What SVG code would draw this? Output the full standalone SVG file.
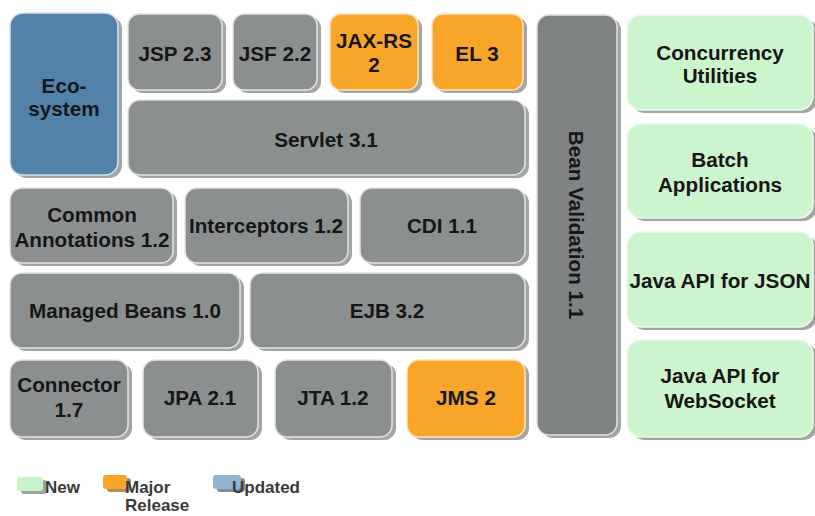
<svg xmlns="http://www.w3.org/2000/svg" width="815" height="516" viewBox="0 0 815 516">
<style>
.sh{fill:#a3a5a5}
.g{fill:#8c8f8f;stroke:#e4e4e4;stroke-width:1.5}
.o{fill:#f8a629;stroke:#fbe2b8;stroke-width:1.5}
.b{fill:#5282a9;stroke:#d8e2ea;stroke-width:1.5}
.n{fill:#cdf5cd;stroke:#eefaee;stroke-width:1.5}
.bv{fill:#7f8383;stroke:#e0e0e0;stroke-width:1.5}
text{font-family:"Liberation Sans",Arial,sans-serif;font-weight:bold;font-size:20.7px;fill:#161616;text-anchor:middle}
.lg{font-size:17px;fill:#3a3a3a;text-anchor:start}
</style>
<rect width="815" height="516" fill="#ffffff"/>
<g id="eco"><rect class="sh" x="14" y="16" width="108" height="162" rx="13"/><rect class="b" x="10" y="13" width="108" height="162" rx="13"/><text x="64" y="93">Eco-</text><text x="64" y="116">system</text></g>
<g id="jsp"><rect class="sh" x="132" y="17" width="94" height="76" rx="11"/><rect class="g" x="128" y="14" width="94" height="76" rx="11"/><text x="175" y="61">JSP 2.3</text></g>
<g id="jsf"><rect class="sh" x="237" y="17" width="84" height="76" rx="11"/><rect class="g" x="233" y="14" width="84" height="76" rx="11"/><text x="275" y="61">JSF 2.2</text></g>
<g id="jaxrs"><rect class="sh" x="334" y="17" width="88" height="76" rx="11"/><rect class="o" x="330" y="14" width="88" height="76" rx="11"/><text x="374" y="48">JAX-RS</text><text x="374" y="72">2</text></g>
<g id="el"><rect class="sh" x="436" y="17" width="91" height="76" rx="11"/><rect class="o" x="432" y="14" width="91" height="76" rx="11"/><text x="477" y="61">EL 3</text></g>
<g id="servlet"><rect class="sh" x="132" y="103" width="397" height="75" rx="12"/><rect class="g" x="128" y="100" width="397" height="75" rx="12"/><text x="326" y="147">Servlet 3.1</text></g>
<g id="beanval"><rect class="sh" x="541" y="18" width="80" height="420" rx="12"/><rect class="bv" x="537" y="15" width="80" height="420" rx="12"/><text transform="translate(569,225) rotate(90)">Bean Validation 1.1</text></g>
<g id="concurrency"><rect class="sh" x="631" y="18" width="186" height="95" rx="14"/><rect class="n" x="627" y="15" width="186" height="95" rx="14"/><text x="720" y="60">Concurrency</text><text x="720" y="83">Utilities</text></g>
<g id="batch"><rect class="sh" x="631" y="127" width="186" height="94" rx="14"/><rect class="n" x="627" y="124" width="186" height="94" rx="14"/><text x="720" y="167">Batch</text><text x="720" y="192">Applications</text></g>
<g id="json"><rect class="sh" x="631" y="235" width="186" height="95" rx="14"/><rect class="n" x="627" y="232" width="186" height="95" rx="14"/><text x="720" y="288">Java API for JSON</text></g>
<g id="websocket"><rect class="sh" x="631" y="343" width="186" height="97" rx="14"/><rect class="n" x="627" y="340" width="186" height="97" rx="14"/><text x="720" y="383">Java API for</text><text x="720" y="408">WebSocket</text></g>
<g id="common"><rect class="sh" x="14" y="191" width="163" height="75" rx="12"/><rect class="g" x="10" y="188" width="163" height="75" rx="12"/><text x="92" y="222">Common</text><text x="92" y="247">Annotations 1.2</text></g>
<g id="interceptors"><rect class="sh" x="189" y="191" width="163" height="75" rx="12"/><rect class="g" x="185" y="188" width="163" height="75" rx="12"/><text x="266" y="233">Interceptors 1.2</text></g>
<g id="cdi"><rect class="sh" x="364" y="191" width="165" height="75" rx="12"/><rect class="g" x="360" y="188" width="165" height="75" rx="12"/><text x="442" y="233">CDI 1.1</text></g>
<g id="managed"><rect class="sh" x="14" y="276" width="230" height="75" rx="12"/><rect class="g" x="10" y="273" width="230" height="75" rx="12"/><text x="125" y="318">Managed Beans 1.0</text></g>
<g id="ejb"><rect class="sh" x="254" y="276" width="275" height="75" rx="12"/><rect class="g" x="250" y="273" width="275" height="75" rx="12"/><text x="387" y="318">EJB 3.2</text></g>
<g id="connector"><rect class="sh" x="14" y="363" width="118" height="77" rx="12"/><rect class="g" x="10" y="360" width="118" height="77" rx="12"/><text x="69" y="392">Connector</text><text x="69" y="417">1.7</text></g>
<g id="jpa"><rect class="sh" x="147" y="363" width="115" height="77" rx="12"/><rect class="g" x="143" y="360" width="115" height="77" rx="12"/><text x="200" y="405">JPA 2.1</text></g>
<g id="jta"><rect class="sh" x="279" y="363" width="117" height="77" rx="12"/><rect class="g" x="275" y="360" width="117" height="77" rx="12"/><text x="333" y="405">JTA 1.2</text></g>
<g id="jms"><rect class="sh" x="411" y="363" width="118" height="77" rx="12"/><rect class="o" x="407" y="360" width="118" height="77" rx="12"/><text x="466" y="405">JMS 2</text></g>
<g id="legend">
<rect x="21" y="480" width="26" height="14" rx="3" fill="#9ea59e"/><rect x="17" y="477" width="26" height="14" rx="3" fill="#c9f3c9"/>
<text class="lg" x="45" y="493">New</text>
<rect x="107" y="478" width="24" height="14" rx="3" fill="#a99060"/><rect x="103" y="475" width="24" height="14" rx="3" fill="#f8a629"/>
<text class="lg" x="125" y="493">Major</text><text class="lg" x="125" y="511">Release</text>
<rect x="217" y="478" width="28" height="14" rx="3" fill="#7f8f9c"/><rect x="213" y="475" width="28" height="14" rx="3" fill="#93b4cf"/>
<text class="lg" x="232" y="493">Updated</text>
</g>
<g id="connectors"/>
</svg>
